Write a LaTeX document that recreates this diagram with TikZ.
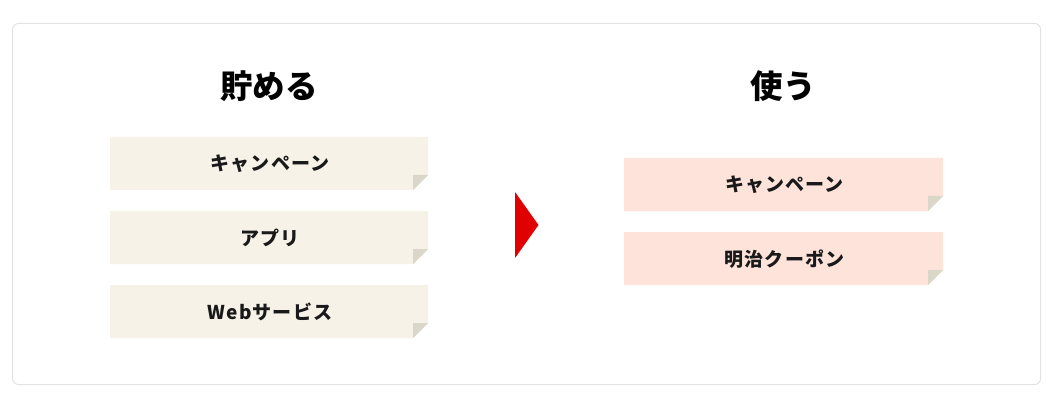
\documentclass[tikz,border=0pt]{standalone}
\usepackage{fontspec}
\newfontfamily\cjk{Noto Sans CJK JP}
\newfontfamily\cjkspaced{Noto Sans CJK JP}[LetterSpace=6]
\definecolor{frameC}{HTML}{E2E2E2}
\definecolor{beige}{HTML}{F6F2E8}
\definecolor{pink}{HTML}{FDE3DA}
\definecolor{foldC}{HTML}{DBD7C8}
\definecolor{redC}{HTML}{E00000}
\tikzset{
  head/.style={font=\cjk\bfseries\fontsize{32.5}{32.5}\selectfont, text=black, inner sep=0},
  label/.style={font=\cjkspaced\bfseries\fontsize{19}{19}\selectfont, text=black!90, inner sep=0},
}
\newcommand{\notebox}[5]{% x1,y1,x2,y2,color
  \fill[#5] (#1,#2) -- (#3,#2) -- (#3,#4-15) -- (#3-15,#4) -- (#1,#4) -- cycle;
  \fill[foldC] (#3-15,#4-15) -- (#3,#4-15) -- (#3-15,#4) -- cycle;
}
\begin{document}
\begin{tikzpicture}[x=1pt,y=-1pt]
\useasboundingbox (0,0) rectangle (1054,406);
\draw[frameC, line width=1pt, rounded corners=6pt] (12.5,23.5) rectangle (1040.5,384.5);
\node[head] (h1) at (269,86) {貯める};
\node[head] (h2) at (783,86) {使う};
\notebox{110}{137}{428}{190}{beige}
\notebox{110}{211}{428}{264}{beige}
\notebox{110}{285}{428}{338}{beige}
\notebox{624}{158}{943}{211}{pink}
\notebox{624}{232}{943}{285}{pink}
\node[label] (l1) at (270,164) {キャンペーン};
\node[label] (l2) at (270,238) {アプリ};
\node[label] (l3) at (270,312) {Webサービス};
\node[label] (r1) at (784.5,185) {キャンペーン};
\node[label] (r2) at (784.5,259) {明治クーポン};
\fill[redC] (515,192) -- (538.5,225) -- (515,258) -- cycle;
\end{tikzpicture}
\end{document}
